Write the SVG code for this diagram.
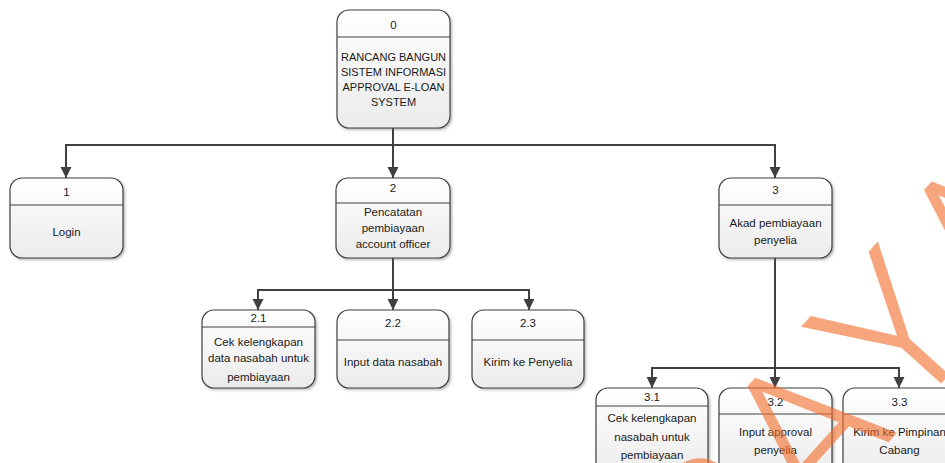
<svg xmlns="http://www.w3.org/2000/svg" width="945" height="463" viewBox="0 0 945 463">
  <defs>
    <linearGradient id="boxFill" x1="0" y1="0" x2="0" y2="1">
      <stop offset="0" stop-color="#ffffff"/>
      <stop offset="1" stop-color="#ebebeb"/>
    </linearGradient>
    <filter id="shadow" x="-10%" y="-10%" width="130%" height="130%">
      <feDropShadow dx="1.5" dy="1.5" stdDeviation="1" flood-color="#606060" flood-opacity="0.45"/>
    </filter>
    <marker id="arrow" markerUnits="userSpaceOnUse" markerWidth="12" markerHeight="12" refX="11" refY="6" orient="auto">
      <path d="M0,0.5 L11,6 L0,11.5 z" fill="#404040"/>
    </marker>
    <style>
      .box { fill: url(#boxFill); stroke: #404040; stroke-width: 1.2; filter: url(#shadow); }
      .div { stroke: #404040; stroke-width: 1.2; }
      .lbl { font-family: "Liberation Sans", Arial, sans-serif; font-size: 11.5px; fill: #1a1a1a; text-anchor: middle; }
      .caps { font-size: 11px; }
      .conn { fill: none; stroke: #404040; stroke-width: 2; }
      .conn path { marker-end: url(#arrow); }
      .wm { font-family: Roboto, "Open Sans", "Liberation Sans", sans-serif; font-weight: 300; font-size: 200px; fill: #f36f2e; text-anchor: middle; }
    </style>
  </defs>

  <rect width="945" height="463" fill="#ffffff"/>

  <!-- connectors -->
  <g id="connectors" class="conn">
    <path d="M393,128 V145 H66 V178"/>
    <path d="M393,145 V178"/>
    <path d="M393,145 H775 V178"/>
    <path d="M393,258 V290 H258 V310"/>
    <path d="M393,290 V310"/>
    <path d="M393,290 H529 V310"/>
    <path d="M775,258 V368 H652 V388"/>
    <path d="M775,368 V388"/>
    <path d="M775,368 H899 V388"/>
  </g>

  <!-- process 0 -->
  <g id="node-0">
    <rect class="box" x="337" y="10" width="113" height="118" rx="12"/>
    <line class="div" x1="337" y1="37" x2="450" y2="37"/>
    <text class="lbl" x="393.5" y="29">0</text>
    <text class="lbl caps" x="393.5" y="61">RANCANG BANGUN</text>
    <text class="lbl caps" x="393.5" y="76">SISTEM INFORMASI</text>
    <text class="lbl caps" x="393.5" y="91">APPROVAL E-LOAN</text>
    <text class="lbl caps" x="393.5" y="106">SYSTEM</text>
  </g>

  <!-- process 1 -->
  <g id="node-1">
    <rect class="box" x="10" y="178" width="113" height="80" rx="12"/>
    <line class="div" x1="10" y1="205" x2="123" y2="205"/>
    <text class="lbl" x="66.5" y="196">1</text>
    <text class="lbl" x="66.5" y="236">Login</text>
  </g>

  <!-- process 2 -->
  <g id="node-2">
    <rect class="box" x="336" y="178" width="114" height="80" rx="12"/>
    <line class="div" x1="336" y1="203" x2="450" y2="203"/>
    <text class="lbl" x="393" y="192">2</text>
    <text class="lbl" x="393" y="216">Pencatatan</text>
    <text class="lbl" x="393" y="232">pembiayaan</text>
    <text class="lbl" x="393" y="248">account officer</text>
  </g>

  <!-- process 3 -->
  <g id="node-3">
    <rect class="box" x="719" y="178" width="113" height="80" rx="12"/>
    <line class="div" x1="719" y1="205" x2="832" y2="205"/>
    <text class="lbl" x="775.5" y="194">3</text>
    <text class="lbl" x="775.5" y="227">Akad pembiayaan</text>
    <text class="lbl" x="775.5" y="244">penyelia</text>
  </g>

  <!-- process 2.1 -->
  <g id="node-2-1">
    <rect class="box" x="202" y="310" width="113" height="78" rx="12"/>
    <line class="div" x1="202" y1="327" x2="315" y2="327"/>
    <text class="lbl" x="258.5" y="322">2.1</text>
    <text class="lbl" x="258.5" y="346">Cek kelengkapan</text>
    <text class="lbl" x="258.5" y="362">data nasabah untuk</text>
    <text class="lbl" x="258.5" y="381">pembiayaan</text>
  </g>

  <!-- process 2.2 -->
  <g id="node-2-2">
    <rect class="box" x="337" y="310" width="112" height="78" rx="12"/>
    <line class="div" x1="337" y1="340" x2="449" y2="340"/>
    <text class="lbl" x="393" y="327">2.2</text>
    <text class="lbl" x="393" y="366">Input data nasabah</text>
  </g>

  <!-- process 2.3 -->
  <g id="node-2-3">
    <rect class="box" x="472" y="310" width="112" height="78" rx="12"/>
    <line class="div" x1="472" y1="340" x2="584" y2="340"/>
    <text class="lbl" x="528" y="327">2.3</text>
    <text class="lbl" x="528" y="366">Kirim ke Penyelia</text>
  </g>

  <!-- process 3.1 -->
  <g id="node-3-1">
    <rect class="box" x="596" y="388" width="112" height="90" rx="12"/>
    <line class="div" x1="596" y1="406" x2="708" y2="406"/>
    <text class="lbl" x="652" y="401">3.1</text>
    <text class="lbl" x="652" y="422">Cek kelengkapan</text>
    <text class="lbl" x="652" y="441">nasabah untuk</text>
    <text class="lbl" x="652" y="459">pembiayaan</text>
  </g>

  <!-- process 3.2 -->
  <g id="node-3-2">
    <rect class="box" x="719" y="388" width="113" height="90" rx="12"/>
    <line class="div" x1="719" y1="414" x2="832" y2="414"/>
    <text class="lbl" x="775.5" y="406">3.2</text>
    <text class="lbl" x="775.5" y="436">Input approval</text>
    <text class="lbl" x="775.5" y="454">penyelia</text>
  </g>

  <!-- process 3.3 -->
  <g id="node-3-3">
    <rect class="box" x="843" y="388" width="113" height="90" rx="12"/>
    <line class="div" x1="843" y1="414" x2="956" y2="414"/>
    <text class="lbl" x="899.5" y="406">3.3</text>
    <text class="lbl" x="899.5" y="436">Kirim ke Pimpinan</text>
    <text class="lbl" x="899.5" y="454">Cabang</text>
  </g>

  <!-- diagonal watermark lettering -->
  <g id="watermark" opacity="0.62" transform="translate(857,477) rotate(-48)">
    <text class="wm" x="-128" y="0">B</text>
    <text class="wm" x="0" y="0">A</text>
    <text class="wm" x="132" y="0">Y</text>
    <text class="wm" x="264" y="0">A</text>
  </g>
</svg>
